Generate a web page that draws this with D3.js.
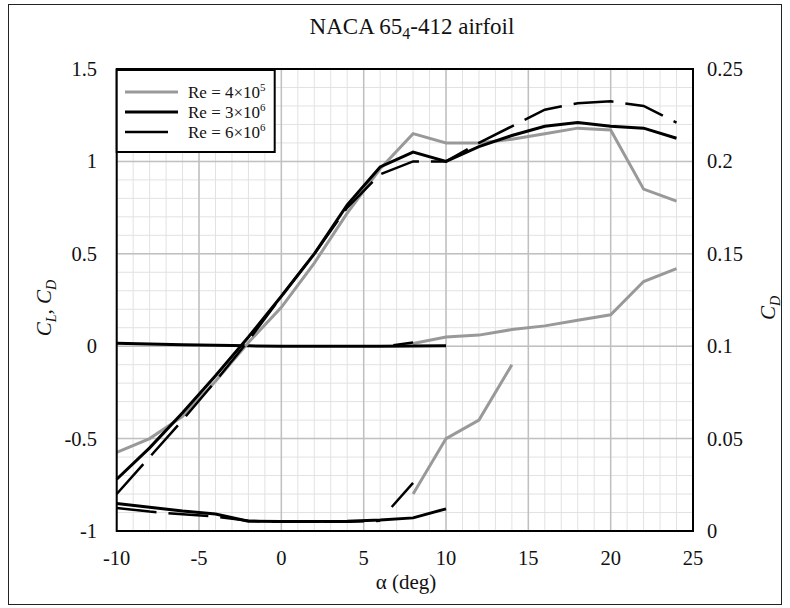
<html lang="en">
<head>
<meta charset="UTF-8"/>
<title>NACA 65-4-412 airfoil</title>
<script src="https://d3js.org/d3.v7.min.js"></script>
<style>
    body { margin: 0; background: #fff; }
    text { font-family: "Liberation Serif", "Times New Roman", serif; fill: #111; }
</style>
</head>
<body>
<script>
    // angle of attack (deg)
    var alpha = [-10, -8, -6, -4, -2, 0, 2, 4, 6, 8, 10, 12, 14, 16, 18, 20, 22, 24];

    // lift coefficient, left axis
    var clRe4e5 = [-0.575, -0.50, -0.38, -0.19, 0.02, 0.21, 0.45, 0.72, 0.96, 1.15, 1.10, 1.10, 1.12, 1.15, 1.18, 1.17, 0.85, 0.785];
    var clRe3e6 = [-0.72, -0.55, -0.36, -0.16, 0.05, 0.27, 0.50, 0.765, 0.97, 1.05, 1.00, 1.08, 1.14, 1.19, 1.21, 1.19, 1.18, 1.125];
    var clRe6e6 = [-0.80, -0.60, -0.40, -0.19, 0.03, 0.27, 0.50, 0.75, 0.93, 1.00, 1.00, 1.10, 1.19, 1.28, 1.315, 1.325, 1.30, 1.21];

    // drag coefficient, right axis
    var alphaDragA = [8, 10, 12, 14];
    var cdRe4e5a = [0.020, 0.050, 0.060, 0.090];
    var alphaDragB = [8, 10, 12, 14, 16, 18, 20, 22, 24];
    var cdRe4e5b = [0.1015, 0.105, 0.106, 0.109, 0.111, 0.114, 0.117, 0.135, 0.142];

    var alphaLow = [-10, -8, -6, -4, -2, 0, 2, 4, 6, 8, 10];
    var cdRe3e6a = [0.0149, 0.0128, 0.0108, 0.0092, 0.0053, 0.0052, 0.0052, 0.0053, 0.0060, 0.0071, 0.0120];
    var cdRe3e6b = [0.1016, 0.1012, 0.1008, 0.1005, 0.1002, 0.1000, 0.1000, 0.1000, 0.1000, 0.1001, 0.1003];

    var alphaLow6 = [-10, -8, -6, -4, -2, 0, 2, 4, 6];
    var cdRe6e6a = [0.0125, 0.0105, 0.0090, 0.0078, 0.0055, 0.0050, 0.0050, 0.0050, 0.0055];
    var alphaRise6 = [6.7, 8];
    var cdRe6e6r = [0.0130, 0.0260];
    var alphaTop6 = [6.8, 8];
    var cdRe6e6b = [0.1005, 0.1020];

    var xTicks = [-10, -5, 0, 5, 10, 15, 20, 25];
    var yTicks = [-1, -0.5, 0, 0.5, 1, 1.5];
    var y2Ticks = [0, 0.05, 0.1, 0.15, 0.2, 0.25];

    var w = 790, h = 608;
    var plotL = 116.7, plotR = 693, plotT = 69, plotB = 531;

    var svg = d3.select("body").append("svg")
        .attr("width", w)
        .attr("height", h);

    // outer frame
    svg.append("rect")
        .attr("x", 8.5).attr("y", 4.5)
        .attr("width", 773).attr("height", 600)
        .attr("fill", "none").attr("stroke", "#222").attr("stroke-width", 1);

    var xScale = d3.scaleLinear().domain([-10, 25]).range([plotL, plotR]);
    var yScale = d3.scaleLinear().domain([-1, 1.5]).range([plotB, plotT]);
    var y2Scale = d3.scaleLinear().domain([0, 0.25]).range([plotB, plotT]);

    // grid, minor then major
    var grid = svg.append("g");
    grid.selectAll(".vminor").data(d3.range(-9, 25)).enter().append("line")
        .attr("x1", d => xScale(d)).attr("x2", d => xScale(d))
        .attr("y1", plotT).attr("y2", plotB)
        .attr("stroke", "#e2e2e2").attr("stroke-width", 1);
    grid.selectAll(".hminor").data(d3.range(-9, 15).map(d => d / 10)).enter().append("line")
        .attr("y1", d => yScale(d)).attr("y2", d => yScale(d))
        .attr("x1", plotL).attr("x2", plotR)
        .attr("stroke", "#e2e2e2").attr("stroke-width", 1);
    grid.selectAll(".vmajor").data(xTicks).enter().append("line")
        .attr("x1", d => xScale(d)).attr("x2", d => xScale(d))
        .attr("y1", plotT).attr("y2", plotB)
        .attr("stroke", "#c0c0c0").attr("stroke-width", 1.5);
    grid.selectAll(".hmajor").data(yTicks).enter().append("line")
        .attr("y1", d => yScale(d)).attr("y2", d => yScale(d))
        .attr("x1", plotL).attr("x2", plotR)
        .attr("stroke", "#c0c0c0").attr("stroke-width", 1.5);

    var styles = {
        gray: { stroke: "#999999", width: 3, dash: null },
        solid: { stroke: "#000", width: 3, dash: null },
        dashed: { stroke: "#000", width: 2.5, dash: "40,12" }
    };

    function drawSeries(xs, ys, scale, style) {
        var pts = xs.map((a, i) => [a, ys[i]]);
        var line = d3.line()
            .x(d => xScale(d[0]))
            .y(d => scale(d[1]));
        svg.append("path")
            .datum(pts)
            .attr("d", line)
            .attr("fill", "none")
            .attr("stroke", style.stroke)
            .attr("stroke-width", style.width)
            .attr("stroke-linejoin", "miter")
            .attr("stroke-dasharray", style.dash);
    }

    // drag curves
    drawSeries(alphaDragA, cdRe4e5a, y2Scale, styles.gray);
    drawSeries(alphaDragB, cdRe4e5b, y2Scale, styles.gray);
    drawSeries(alphaLow6, cdRe6e6a, y2Scale, styles.dashed);
    drawSeries(alphaRise6, cdRe6e6r, y2Scale, styles.dashed);
    drawSeries(alphaTop6, cdRe6e6b, y2Scale, styles.dashed);
    drawSeries(alphaLow, cdRe3e6a, y2Scale, styles.solid);
    drawSeries(alphaLow, cdRe3e6b, y2Scale, styles.solid);

    // lift curves
    drawSeries(alpha, clRe4e5, yScale, styles.gray);
    drawSeries(alpha, clRe6e6, yScale, styles.dashed);
    drawSeries(alpha, clRe3e6, yScale, styles.solid);

    // plot frame
    svg.append("rect")
        .attr("x", plotL).attr("y", plotT)
        .attr("width", plotR - plotL).attr("height", plotB - plotT)
        .attr("fill", "none").attr("stroke", "#000").attr("stroke-width", 2);

    // tick labels
    svg.selectAll(".xlab").data(xTicks).enter().append("text")
        .attr("x", d => xScale(d)).attr("y", 565)
        .attr("text-anchor", "middle").attr("font-size", 20.5)
        .text(d => d);
    svg.selectAll(".ylab").data(yTicks).enter().append("text")
        .attr("x", 97).attr("y", d => yScale(d) + 7)
        .attr("text-anchor", "end").attr("font-size", 20.5)
        .text(d => d);
    svg.selectAll(".y2lab").data(y2Ticks).enter().append("text")
        .attr("x", 707).attr("y", d => y2Scale(d) + 7)
        .attr("text-anchor", "start").attr("font-size", 20.5)
        .text(d => d);

    // title
    var title = svg.append("text")
        .attr("x", 412).attr("y", 34)
        .attr("text-anchor", "middle").attr("font-size", 23);
    title.append("tspan").text("NACA 65");
    title.append("tspan").attr("font-size", 16).attr("dy", 5).text("4");
    title.append("tspan").attr("dy", -5).text("-412 airfoil");

    // x axis title
    svg.append("text")
        .attr("x", 406).attr("y", 589)
        .attr("text-anchor", "middle").attr("font-size", 21)
        .text("\u03b1 (deg)");

    // left axis title
    var ylab = svg.append("text")
        .attr("transform", "translate(51,308) rotate(-90)")
        .attr("text-anchor", "middle").attr("font-size", 21)
        .attr("font-style", "italic");
    ylab.append("tspan").text("C");
    ylab.append("tspan").attr("font-size", 14).attr("dy", 5).text("L");
    ylab.append("tspan").attr("dy", -5).text(", C");
    ylab.append("tspan").attr("font-size", 14).attr("dy", 5).text("D");

    // right axis title
    var y2lab = svg.append("text")
        .attr("transform", "translate(775,308) rotate(-90)")
        .attr("text-anchor", "middle").attr("font-size", 21)
        .attr("font-style", "italic");
    y2lab.append("tspan").text("C");
    y2lab.append("tspan").attr("font-size", 14).attr("dy", 5).text("D");

    // legend
    var legendNames = [["4", "5"], ["3", "6"], ["6", "6"]];
    var legendStyles = [styles.gray, styles.solid, styles.dashed];
    var lg = svg.append("g");
    lg.append("rect")
        .attr("x", plotL).attr("y", plotT + 1)
        .attr("width", 158).attr("height", 82)
        .attr("fill", "#fff").attr("stroke", "#000").attr("stroke-width", 2);
    legendNames.forEach(function (n, i) {
        var yy = 92 + i * 20;
        var st = legendStyles[i];
        lg.append("line")
            .attr("x1", 125).attr("x2", i == 2 ? 168 : 178)
            .attr("y1", yy).attr("y2", yy)
            .attr("stroke", st.stroke).attr("stroke-width", st.width);
        var t = lg.append("text")
            .attr("x", 188).attr("y", yy + 6)
            .attr("font-size", 17);
        t.append("tspan").text("Re = " + n[0] + "\u00d710");
        t.append("tspan").attr("font-size", 11).attr("dy", -7).text(n[1]);
    });
</script>
</body>
</html>
